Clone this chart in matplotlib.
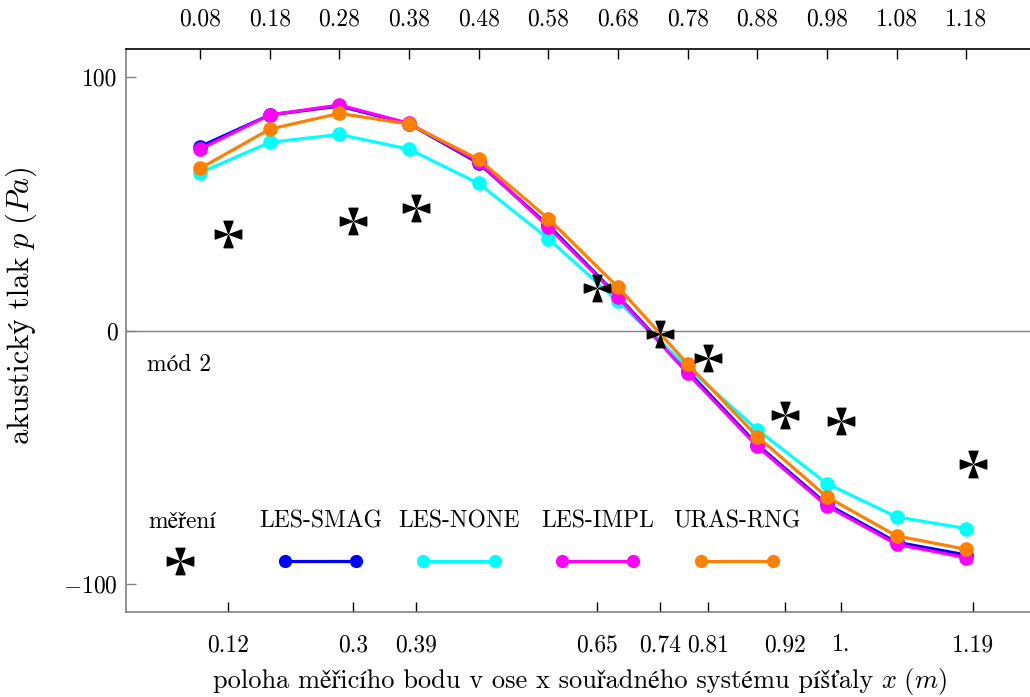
"""
Akustický tlak - mód 2, srovnání měření a simulací
"""
import matplotlib.pyplot as plt
import numpy as np
from matplotlib.path import Path

plt.rcParams['font.family'] = ['cmr10', 'STIXGeneral']
plt.rcParams['mathtext.fontset'] = 'cm'
plt.rcParams['axes.unicode_minus'] = False

# simulace - polohy bodů
x_sim = [0.08, 0.18, 0.28, 0.38, 0.48, 0.58, 0.68, 0.78, 0.88, 0.98, 1.08, 1.18]
les_smag = [72.5, 85.0, 88.5, 81.5, 66.0, 41.5, 13.5, -16.0, -45.0, -68.5, -83.5, -88.5]
les_none = [62.2, 74.2, 77.3, 71.5, 58.0, 36.2, 11.5, -14.5, -39.1, -60.4, -73.5, -78.1]
les_impl = [71.5, 85.0, 88.9, 81.7, 66.5, 40.8, 13.2, -16.9, -45.7, -69.2, -84.3, -89.6]
uras_rng = [63.9, 79.4, 85.6, 81.4, 67.5, 44.1, 17.1, -13.2, -41.8, -65.6, -81.0, -86.3]

# měření
x_mer = [0.12, 0.3, 0.39, 0.65, 0.74, 0.81, 0.92, 1.0, 1.19]
p_mer = [37.9, 43.1, 48.2, 16.6, -1.2, -10.7, -33.2, -35.6, -52.6]
x_mer_labels = ['0.12', '0.3', '0.39', '0.65', '0.74', '0.81', '0.92', '1.', '1.19']

series = [
    ('LES-SMAG', les_smag, '#0000ff'),
    ('LES-NONE', les_none, '#00ffff'),
    ('LES-IMPL', les_impl, '#ff00ff'),
    ('URAS-RNG', uras_rng, '#ff8000'),
]


def cross_marker(gap=0.08, w=0.34):
    """Kříž ze čtyř trojúhelníků se špičkou ve středu"""
    verts, codes = [], []
    for ang in [0, 90, 180, 270]:
        a = np.deg2rad(ang)
        rot = np.array([[np.cos(a), -np.sin(a)], [np.sin(a), np.cos(a)]])
        tri = np.array([[gap, 0], [1, w], [1, -w], [gap, 0]]) @ rot.T
        verts += tri.tolist()
        codes += [Path.MOVETO, Path.LINETO, Path.LINETO, Path.CLOSEPOLY]
    return Path(verts, codes)


star = cross_marker()
fs = 17
gray = '#808080'
W, H = 1030, 697

fig = plt.figure(figsize=(W / 100, H / 100), dpi=100)
ax = fig.add_axes([126 / W, 1 - 612 / H, 1 - 126 / W, (612 - 49) / H])

ax.axhline(0, color=gray, lw=1.0, zorder=1)

for name, vals, col in series:
    ax.plot(x_sim, vals, '-o', color=col, lw=2.3, ms=9.5, zorder=3)

ax.plot(x_mer, p_mer, linestyle='none', marker=star, ms=19, color='black', zorder=5)

ax.set_xlim(-0.0263, 1.2716)
ax.set_ylim(-111, 111)

# osy
ax.spines['right'].set_visible(False)
ax.spines['left'].set_color(gray)
ax.spines['bottom'].set_color(gray)
ax.spines['top'].set_color('black')
for s in ax.spines.values():
    s.set_linewidth(1.2)

ax.set_yticks([100, 0, -100])
ax.set_yticklabels(['100', '0', r'$-100$'], fontsize=fs)
ax.tick_params(axis='y', direction='in', length=7, width=1, color=gray, pad=6)

ax.set_xticks(x_mer)
ax.set_xticklabels(x_mer_labels, fontsize=fs)
ax.tick_params(axis='x', direction='in', length=7, width=1, color='black', pad=16)

top = ax.secondary_xaxis('top')
top.set_xticks(x_sim)
top.set_xticklabels([f'{v:.2f}' for v in x_sim], fontsize=fs)
top.tick_params(direction='in', length=7, width=1, color='black', pad=13)
top.spines['top'].set_visible(False)

# popisky os: obyčejný text + matematická část zvlášť (kvůli diakritice)
r = fig.canvas.get_renderer()
xfs, yfs = 19, 22
gap = 7
xl1 = fig.text(0, 1 - 688 / H, 'poloha měřicího bodu v ose x souřadného systému píšťaly',
               ha='left', va='baseline', fontsize=xfs)
xl2 = fig.text(0, 1 - 688 / H, r'$x\ (m)$', ha='left', va='baseline', fontsize=xfs)
w1 = xl1.get_window_extent(r).width
w2 = xl2.get_window_extent(r).width
x0 = 580 - (w1 + gap + w2) / 2
xl1.set_x(x0 / W)
xl2.set_x((x0 + w1 + gap) / W)

yl1 = fig.text(29 / W, 0, 'akustický tlak', ha='left', va='baseline', rotation=90,
               rotation_mode='anchor', fontsize=yfs)
yl2 = fig.text(29 / W, 0, r'$p\ (Pa)$', ha='left', va='baseline', rotation=90,
               rotation_mode='anchor', fontsize=yfs)
h1 = yl1.get_window_extent(r).height
h2 = yl2.get_window_extent(r).height
y0 = (H - 305) - (h1 + gap + h2) / 2
yl1.set_y(y0 / H)
yl2.set_y((y0 + h1 + gap) / H)

ax.text(0.023, 0.439, 'mód 2', transform=ax.transAxes, ha='left', va='center', fontsize=fs)

# legenda
ly_text, ly_mark = 0.160, 0.0906
ax.text(0.062, ly_text, 'měření', transform=ax.transAxes, ha='center', va='center', fontsize=fs)
ax.plot([0.0597], [ly_mark], transform=ax.transAxes, linestyle='none', marker=star,
        ms=19, color='black', clip_on=False)
leg_x = [(0.176, 0.254), (0.329, 0.408), (0.482, 0.561), (0.636, 0.716)]
for (name, vals, col), (x0, x1) in zip(series, leg_x):
    ax.text((x0 + x1) / 2, ly_text, name, transform=ax.transAxes, ha='center', va='center', fontsize=fs)
    ax.plot([x0, x1], [ly_mark, ly_mark], '-o', color=col, lw=2.3, ms=8.5,
            transform=ax.transAxes, clip_on=False)

plt.savefig('out.png', dpi=100)
